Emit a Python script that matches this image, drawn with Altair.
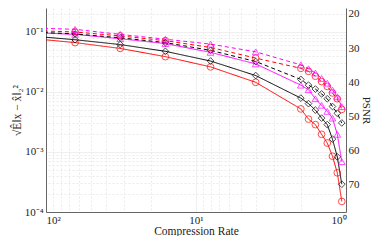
import altair as alt
import pandas as pd

# compression rates (x)
rates = [128, 64, 32, 16, 8, 4, 2, 1.7778, 1.6, 1.4545, 1.3333, 1.2308, 1.1429, 1.0667]

# error values per series
red_solid = [0.0785, 0.0665, 0.0532, 0.0388, 0.0262, 0.0145, 0.00522, 0.00353, 0.00286, 0.00197, 0.00141, 0.00085, 0.00045, 0.00015]
black_solid = [0.0861, 0.0743, 0.0617, 0.0476, 0.0328, 0.0188, 0.00791, 0.00640, 0.00499, 0.00367, 0.00286, 0.00164, 0.00083, 0.00029]
magenta_solid = [0.0982, 0.0912, 0.0771, 0.0640, 0.0458, 0.0294, 0.0130, 0.0109, 0.00771, 0.00601, 0.00475, 0.00367, 0.00197, 0.00069]
red_dashed = [0.1057, 0.1, 0.0861, 0.0716, 0.0552, 0.0367, 0.0248, 0.0221, 0.0183, 0.0149, 0.0124, 0.00964, 0.00771, 0.00513]
black_dashed = [0.1, 0.0929, 0.0800, 0.0665, 0.0494, 0.0322, 0.0162, 0.0130, 0.0112, 0.00929, 0.00771, 0.00573, 0.00442, 0.00305]
magenta_dashed = [0.1169, 0.1107, 0.0912, 0.0757, 0.0628, 0.0467, 0.0283, 0.0244, 0.0207, 0.0168, 0.0140, 0.0108, 0.0083, 0.0057]

series_names = ["red_solid", "black_solid", "magenta_solid", "red_dashed", "black_dashed", "magenta_dashed"]
series_vals = [red_solid, black_solid, magenta_solid, red_dashed, black_dashed, magenta_dashed]
series_colors = ["#ff0000", "#000000", "#ff00ff", "#ff0000", "#000000", "#ff00ff"]
series_shapes = ["circle", "diamond", "triangle-up", "circle", "diamond", "triangle-up"]
series_dash = ["solid", "solid", "solid", "dashed", "dashed", "dashed"]

x_ticks = [1, 2, 3, 4, 5, 6, 7, 8, 9, 10, 20, 30, 40, 50, 60, 70, 80, 90, 100]
y_ticks = [1e-4, 2e-4, 3e-4, 4e-4, 5e-4, 6e-4, 7e-4, 8e-4, 9e-4,
           1e-3, 2e-3, 3e-3, 4e-3, 5e-3, 6e-3, 7e-3, 8e-3, 9e-3,
           1e-2, 2e-2, 3e-2, 4e-2, 5e-2, 6e-2, 7e-2, 8e-2, 9e-2,
           1e-1, 2e-1]
psnr_ticks = [20, 30, 40, 50, 60, 70]

rows = []
for name, vals, c, s, d in zip(series_names, series_vals, series_colors, series_shapes, series_dash):
    for i, (xv, yv) in enumerate(zip(rates, vals)):
        rows.append({"x": xv, "y": yv, "series": name, "color": c, "shape": s, "dash": d, "order": i})
df = pd.DataFrame(rows)

FONT = "Liberation Serif"

xscale = alt.Scale(type="log", domain=[1, 100], reverse=True, nice=False, padding=0)
yscale = alt.Scale(type="log", domain=[1e-4, 0.251], nice=False, padding=0)

major_test = "abs(log(datum.value)/log(10) - round(log(datum.value)/log(10))) < 0.001"

x_enc = alt.X("x:Q", scale=xscale, axis=alt.Axis(
    values=x_ticks, title="Compression Rate",
    labelExpr="datum.value == 100 ? '10²' : datum.value == 10 ? '10¹' : datum.value == 1 ? '10⁰' : ''",
    labelOverlap=False, labelFont=FONT, labelFontSize=11, labelColor="#222",
    titleFont=FONT, titleFontSize=11.5, titleFontWeight="normal", titleColor="#222",
    titlePadding=0, labelPadding=2, ticks=False, domainColor="#666",
    gridColor="#ebebeb",
    gridDash={"condition": {"test": major_test, "value": [1, 0]}, "value": [2, 2]},
))
y_enc = alt.Y("y:Q", scale=yscale, axis=alt.Axis(
    values=y_ticks, title="√Ê‖x − x̂‖₂²",
    labelExpr="datum.value == 0.1 ? '10⁻¹' : datum.value == 0.01 ? '10⁻²' : datum.value == 0.001 ? '10⁻³' : datum.value == 0.0001 ? '10⁻⁴' : ''",
    labelOverlap=False, labelFont=FONT, labelFontSize=11, labelColor="#222",
    titleFont=FONT, titleFontSize=11.5, titleFontWeight="normal", titleColor="#222",
    titlePadding=2, labelPadding=3, ticks=False, domainColor="#666",
    gridColor="#ebebeb",
    gridDash={"condition": {"test": major_test, "value": [1, 0]}, "value": [2, 2]},
))

base = alt.Chart(df)
lines = base.mark_line(clip=True, strokeWidth=1).encode(
    x=x_enc, y=y_enc,
    color=alt.Color("color:N", scale=None),
    strokeDash=alt.StrokeDash("dash:N", scale=alt.Scale(domain=["solid", "dashed"], range=[[1, 0], [4, 3]]), legend=None),
    detail="series:N",
    order="order:Q",
)
points = base.mark_point(clip=True, filled=False, size=45, strokeWidth=1).encode(
    x=alt.X("x:Q", scale=xscale),
    y=alt.Y("y:Q", scale=yscale),
    color=alt.Color("color:N", scale=None),
    shape=alt.Shape("shape:N", scale=None),
)

main = alt.layer(lines, points)

psnr_df = pd.DataFrame({"x": [10], "psnr": [50]})
right = alt.Chart(psnr_df).mark_point(opacity=0).encode(
    x=alt.X("x:Q", scale=xscale),
    y=alt.Y("psnr:Q", scale=alt.Scale(domain=[18.27, 77.92], reverse=True, nice=False, zero=False, padding=0),
            axis=alt.Axis(orient="right", values=psnr_ticks, title="PSNR", grid=False,
                          labelFont=FONT, labelFontSize=11, labelColor="#222",
                          titleFont=FONT, titleFontSize=11, titleFontWeight="normal", titleColor="#222",
                          titlePadding=1, labelPadding=2, ticks=False, domainColor="#666")),
)

chart = alt.layer(main, right).resolve_scale(y="independent").properties(
    width=300, height=204,
    autosize=alt.AutoSizeParams(type="none"),
    padding={"left": 38, "top": 0, "right": 28, "bottom": 24},
).configure_view(stroke=None)

chart.save("out.html", embed_options={"renderer": "svg", "actions": False})
